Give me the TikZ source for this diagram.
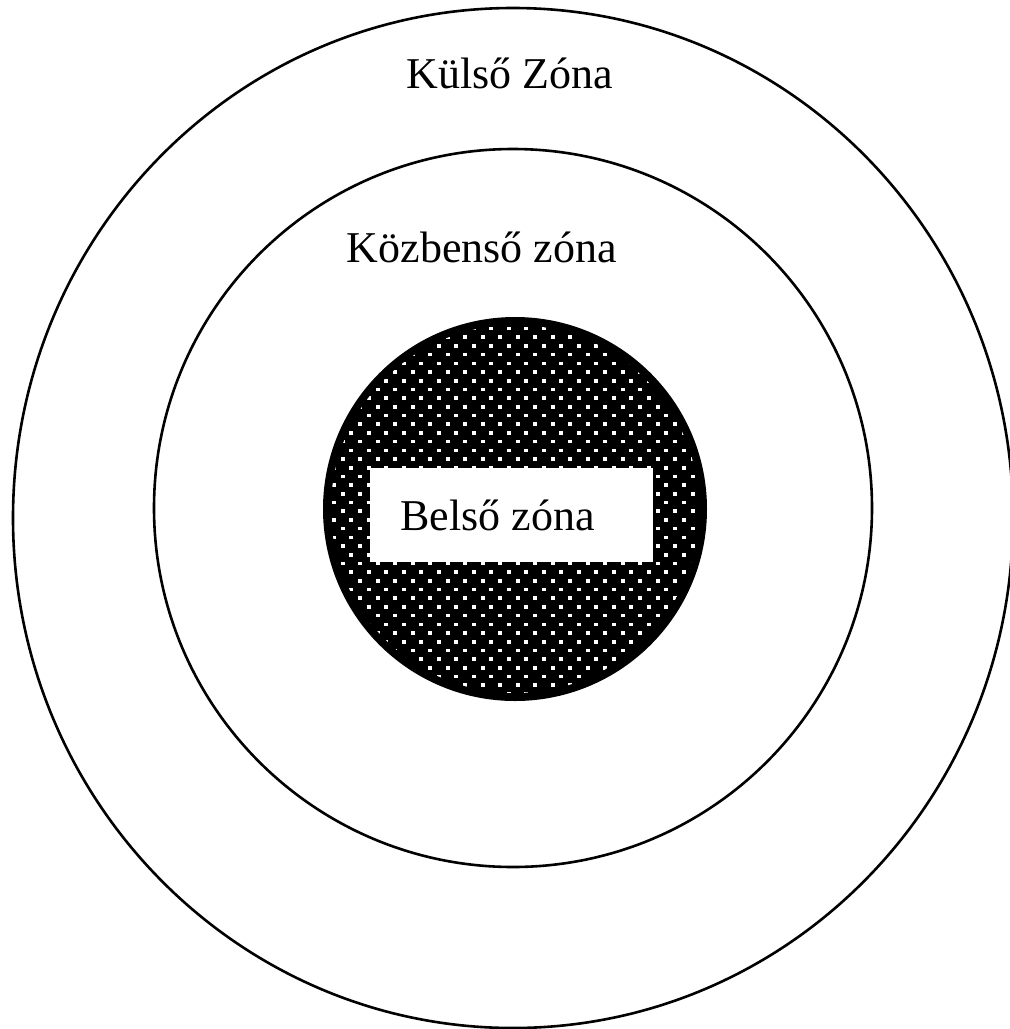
\documentclass[tikz,border=0pt]{standalone}
\usepackage{fontspec}
\setmainfont{Liberation Serif}
\begin{document}
\begin{tikzpicture}[
    x=1pt, y=-1pt,
    zone/.style={draw=black, line width=2.6pt},
    core/.style={fill=black},
    dot/.style={fill=white},
    labelbox/.style={fill=white, inner sep=0pt, minimum width=283pt, minimum height=94pt},
    zonelabel/.style={font=\fontsize{44}{50}\selectfont, anchor=base, inner sep=0pt}
]
\useasboundingbox (0,0) rectangle (1010,1029);
\coordinate (outerc) at (513,518);
\coordinate (midc) at (513,508);
\coordinate (innerc) at (515,509);
% outer zone, cut by the page edge
\begin{scope}
\clip (0,0) rectangle (1010,1029);
\draw[zone] (outerc) ellipse [x radius=500, y radius=510];
\end{scope}
% intermediate zone
\draw[zone] (midc) circle [radius=359];
% inner zone: black disc with white dots
\fill[core] (innerc) circle [radius=192];
\begin{scope}
\clip (innerc) circle [radius=184];
\foreach \j in {0,...,45}
  \foreach \i in {0,...,23}
    \fill[dot] ({323+\i*17.5+mod(\j,2)*8.75},{318+\j*8.7}) rectangle +(4,3.6);
\end{scope}
\node[labelbox] (belsobox) at (511.5,515) {};
% labels
\node[zonelabel] (kulso) at (510,88) {Külső Zóna};
\node[zonelabel] (kozbenso) at (482,262) {Közbenső zóna};
\node[zonelabel] (belso) at (497.5,530) {Belső zóna};
\end{tikzpicture}
\end{document}
